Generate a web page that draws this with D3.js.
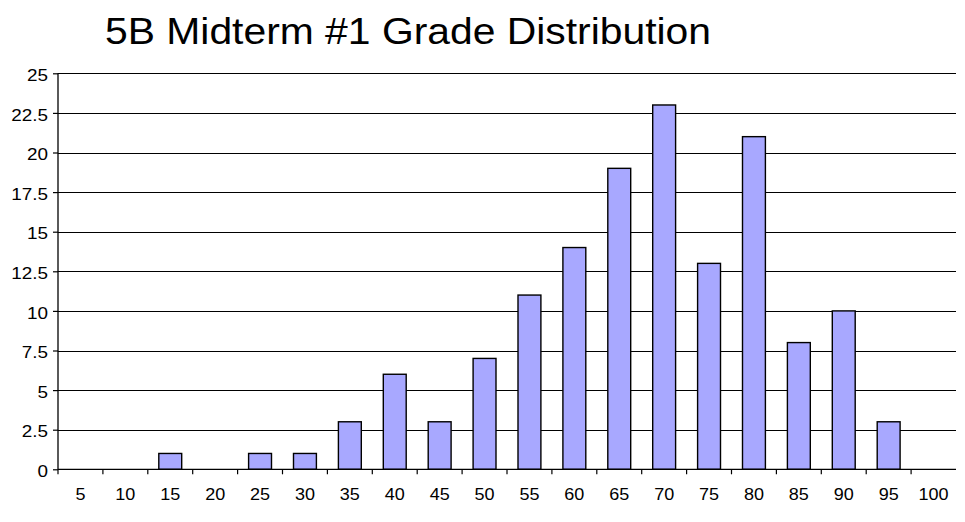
<!DOCTYPE html>
<html><head><meta charset="utf-8">
<script src="https://cdn.jsdelivr.net/npm/d3@7"></script>
<style>body{margin:0;background:#fff}svg{display:block}text{font-family:"Liberation Sans",Arial,sans-serif}</style>
</head><body>
<svg id="c" width="965" height="522"></svg>
<script>
const title = "5B Midterm #1 Grade Distribution";
const categories = ["5","10","15","20","25","30","35","40","45","50","55","60","65","70","75","80","85","90","95","100"];
const counts = [0,0,1,0,1,1,3,6,3,7,11,14,19,23,13,21,8,10,3,0];
const yTicks = [0,2.5,5,7.5,10,12.5,15,17.5,20,22.5,25];

const svg = d3.select("#c");
const m = {left:58, right:956, top:73.3, bottom:469.3};
const x = d3.scaleBand().domain(categories).range([m.left, m.right]).paddingInner(0.49).paddingOuter(0.245);
const xb = d3.scaleBand().domain(categories).range([m.left, m.right]);
const y = d3.scaleLinear().domain([0,25]).range([m.bottom, m.top]);

function stretch(sel, k){
  sel.each(function(){
    const w = this.getComputedTextLength();
    d3.select(this).attr("textLength", w*k).attr("lengthAdjust","spacingAndGlyphs");
  });
}

const t = svg.append("text").attr("x",105).attr("y",44.3).attr("font-size",36).attr("fill","#000").text(title);
t.attr("textLength",606).attr("lengthAdjust","spacingAndGlyphs");

// gridlines
svg.append("g").selectAll("line").data(yTicks.filter(d=>d>0)).join("line")
  .attr("x1",m.left).attr("x2",m.right).attr("y1",d=>Math.round(y(d))+0.5).attr("y2",d=>Math.round(y(d))+0.5)
  .attr("stroke","#000").attr("stroke-width",1.2);

// bars
svg.append("g").selectAll("rect").data(categories.map((c,i)=>({c,v:counts[i]})).filter(d=>d.v>0)).join("rect")
  .attr("x",d=>x(d.c)).attr("width",x.bandwidth())
  .attr("y",d=>y(d.v)).attr("height",d=>y(0)-y(d.v))
  .attr("fill","#a8a8ff").attr("stroke","#000").attr("stroke-width",1.4);

// y axis
const ya = svg.append("g").attr("transform",`translate(${m.left},0)`)
  .call(d3.axisLeft(y).tickValues(yTicks).tickFormat(d=>String(d)).tickSize(5).tickPadding(5));
ya.select(".domain").attr("stroke","#000").attr("stroke-width",1.3).attr("d",`M0,${m.top}V${m.bottom}`);
ya.selectAll(".tick line").attr("stroke","#000").attr("stroke-width",1.2);
ya.selectAll("text").attr("font-size",16).attr("dy","0.45em").attr("font-family","Liberation Sans, Arial, sans-serif").attr("fill","#000");
stretch(ya.selectAll("text"), 1.18);

// x axis
const xa = svg.append("g").attr("transform",`translate(0,${m.bottom})`)
  .call(d3.axisBottom(xb).tickSize(0).tickPadding(19));
xa.select(".domain").attr("stroke","#000").attr("stroke-width",1.3).attr("d",`M${m.left},0H${m.right}`);
xa.selectAll("text").attr("font-size",17).attr("font-family","Liberation Sans, Arial, sans-serif").attr("fill","#000");
stretch(xa.selectAll("text"), 1.06);
// tick marks between categories
svg.append("g").selectAll("line").data(categories).join("line")
  .attr("x1",d=>xb(d)).attr("x2",d=>xb(d)).attr("y1",m.bottom).attr("y2",m.bottom+5)
  .attr("stroke","#000").attr("stroke-width",1.2);
</script>
</body></html>
